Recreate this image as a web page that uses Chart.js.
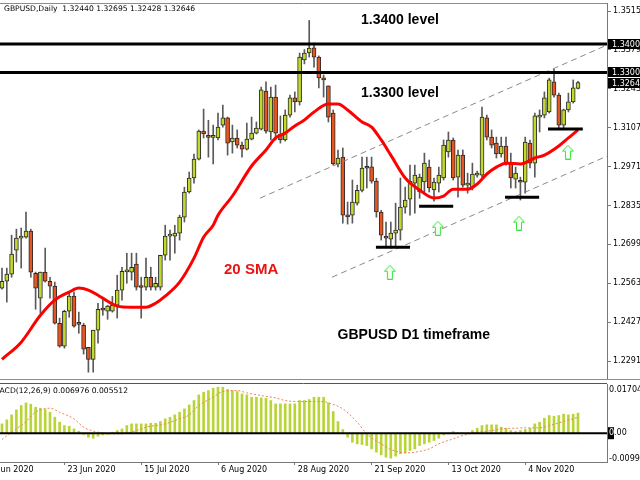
<!DOCTYPE html>
<html>
<head>
<meta charset="utf-8">
<script src="https://cdn.jsdelivr.net/npm/chart.js@4.4.0/dist/chart.umd.min.js"></script>
<style>
  html, body { margin: 0; padding: 0; background: #fff; }
  #wrap { position: relative; width: 640px; height: 480px; overflow: hidden; }
  #main { position: absolute; left: 0; top: 0; }
  #macd { position: absolute; left: 0; top: 380px; }
</style>
</head>
<body>
<div id="wrap">
  <canvas id="main" width="640" height="380"></canvas>
  <canvas id="macd" width="640" height="100"></canvas>
</div>
<script>
// GBPUSD daily candles, one per trading day (bar 0 = 4 Jun 2020, bar 120 = 19 Nov 2020)
const opens = [
  1.2546, 1.2570, 1.2595, 1.2679, 1.2721, 1.2724, 1.2745, 1.2598, 1.2511, 1.2602,
  1.2570, 1.2553, 1.2423, 1.2343, 1.2465, 1.2518, 1.2421, 1.2416, 1.2339, 1.2297,
  1.2399, 1.2472, 1.2465, 1.2465, 1.2486, 1.2539, 1.2603, 1.2602, 1.2630, 1.2550,
  1.2549, 1.2584, 1.2549, 1.2549, 1.2661, 1.2728, 1.2728, 1.2738, 1.2794, 1.2882,
  1.2931, 1.2997, 1.3095, 1.3075, 1.3073, 1.3071, 1.3116, 1.3141, 1.3057, 1.3071,
  1.3046, 1.3032, 1.3067, 1.3088, 1.3102, 1.3235, 1.3092, 1.3214, 1.3085, 1.3064,
  1.3151, 1.3211, 1.3197, 1.3344, 1.3368, 1.3386, 1.3354, 1.3281, 1.3253, 1.3158,
  1.2980, 1.3004, 1.2801, 1.2801, 1.2843, 1.2888, 1.2970, 1.2970, 1.2920, 1.2812,
  1.2728, 1.2717, 1.2738, 1.2749, 1.2829, 1.2857, 1.2913, 1.2882, 1.2917, 1.2969,
  1.2889, 1.2913, 1.2931, 1.3022, 1.3064, 1.2934, 1.3011, 1.2906, 1.2896, 1.2941,
  1.2941, 1.3141, 1.3074, 1.3053, 1.3015, 1.3043, 1.2983, 1.2927, 1.2920, 1.2916,
  1.3053, 1.2983, 1.3144, 1.3151, 1.3162, 1.3267, 1.3221, 1.3116, 1.3169, 1.3197,
  1.32440
];
const highs = [
  1.2616, 1.2616, 1.2731, 1.2752, 1.2756, 1.2812, 1.2752, 1.2602, 1.2602, 1.2686,
  1.2584, 1.2567, 1.2441, 1.2469, 1.2532, 1.2532, 1.2462, 1.2423, 1.2339, 1.2399,
  1.2493, 1.2510, 1.2486, 1.2517, 1.2591, 1.2619, 1.2668, 1.2668, 1.2668, 1.2584,
  1.2651, 1.2619, 1.2584, 1.2661, 1.2766, 1.2749, 1.2766, 1.2801, 1.2899, 1.2952,
  1.3015, 1.3099, 1.3172, 1.3133, 1.3116, 1.3158, 1.3186, 1.3144, 1.3116, 1.3099,
  1.3057, 1.3123, 1.3144, 1.3127, 1.3249, 1.3267, 1.3249, 1.3256, 1.3148, 1.3169,
  1.3221, 1.3232, 1.3368, 1.3380, 1.3482, 1.3403, 1.3358, 1.3291, 1.3253, 1.3169,
  1.3029, 1.3036, 1.2847, 1.2924, 1.2906, 1.3004, 1.3004, 1.3004, 1.2930, 1.2818,
  1.2777, 1.2777, 1.2843, 1.2931, 1.2899, 1.2976, 1.2976, 1.2945, 1.3018, 1.2994,
  1.2931, 1.2969, 1.3064, 1.3092, 1.3071, 1.3029, 1.3029, 1.2948, 1.2983, 1.2955,
  1.3179, 1.3151, 1.3099, 1.3074, 1.3074, 1.3074, 1.3018, 1.2969, 1.2934, 1.3074,
  1.3064, 1.3158, 1.3169, 1.3232, 1.3280, 1.3312, 1.3228, 1.3172, 1.3228, 1.3274,
  1.32695
];
const lows = [
  1.2542, 1.2497, 1.2584, 1.2637, 1.2616, 1.2721, 1.2584, 1.2472, 1.2458, 1.2567,
  1.2511, 1.2420, 1.2339, 1.2336, 1.2444, 1.2409, 1.2388, 1.2315, 1.2252, 1.2252,
  1.2353, 1.2451, 1.2437, 1.2462, 1.2441, 1.2504, 1.2563, 1.2574, 1.2539, 1.2441,
  1.2539, 1.2539, 1.2539, 1.2539, 1.2644, 1.2644, 1.2668, 1.2714, 1.2777, 1.2878,
  1.2913, 1.2994, 1.3071, 1.3004, 1.2980, 1.3064, 1.3109, 1.3011, 1.3018, 1.3036,
  1.3004, 1.3029, 1.3064, 1.3085, 1.3099, 1.3088, 1.3064, 1.3064, 1.3053, 1.3060,
  1.3144, 1.3162, 1.3186, 1.3330, 1.3354, 1.3319, 1.3246, 1.3214, 1.3127, 1.2976,
  1.2970, 1.2773, 1.2770, 1.2773, 1.2836, 1.2882, 1.2896, 1.2913, 1.2794, 1.2714,
  1.2689, 1.2686, 1.2689, 1.2714, 1.2808, 1.2801, 1.2808, 1.2860, 1.2882, 1.2882,
  1.2850, 1.2882, 1.2924, 1.3004, 1.2924, 1.2864, 1.2899, 1.2878, 1.2889, 1.2934,
  1.2934, 1.3064, 1.3036, 1.3001, 1.3004, 1.2976, 1.2896, 1.2896, 1.2854, 1.2878,
  1.2966, 1.2934, 1.3092, 1.3141, 1.3158, 1.3214, 1.3106, 1.3102, 1.3162, 1.3193,
  1.32428
];
const closes = [
  1.2570, 1.2595, 1.2665, 1.2721, 1.2728, 1.2745, 1.2602, 1.2546, 1.2602, 1.2570,
  1.2553, 1.2423, 1.2343, 1.2465, 1.2518, 1.2413, 1.2419, 1.2332, 1.2297, 1.2399,
  1.2472, 1.2469, 1.2483, 1.2486, 1.2539, 1.2605, 1.2606, 1.2619, 1.2549, 1.2548,
  1.2584, 1.2549, 1.2563, 1.2661, 1.2728, 1.2731, 1.2738, 1.2794, 1.2882, 1.2931,
  1.2997, 1.3095, 1.3085, 1.3073, 1.3076, 1.3109, 1.3141, 1.3053, 1.3071, 1.3046,
  1.3032, 1.3067, 1.3088, 1.3106, 1.3239, 1.3095, 1.3214, 1.3088, 1.3064, 1.3151,
  1.3211, 1.3197, 1.3354, 1.3368, 1.3385, 1.3354, 1.3281, 1.3274, 1.3144, 1.2980,
  1.3001, 1.2801, 1.2795, 1.2847, 1.2888, 1.2966, 1.2965, 1.2920, 1.2812, 1.2731,
  1.2721, 1.2738, 1.2749, 1.2829, 1.2854, 1.2920, 1.2941, 1.2934, 1.2983, 1.2896,
  1.2917, 1.2941, 1.3046, 1.3064, 1.2931, 1.3011, 1.2906, 1.2910, 1.2945, 1.2948,
  1.3144, 1.3074, 1.3046, 1.3015, 1.3043, 1.2983, 1.2931, 1.2948, 1.2916, 1.3057,
  1.2983, 1.3148, 1.3148, 1.3211, 1.3274, 1.3221, 1.3116, 1.3169, 1.3197, 1.3246,
  1.32646
];

// 20 SMA (bar index, price)
const smaBars = [0, 4, 8, 11, 14, 16, 18, 20, 22, 24, 27, 30, 32, 34, 37, 40, 42, 44, 45, 48,
  52, 55, 57, 59, 61, 63, 65, 68, 70, 72, 75, 77, 79, 81, 84, 87, 90, 92, 94, 97,
  99, 101, 103, 105, 108, 111, 113, 116, 118, 120];
const smaVals = [1.2297, 1.2357, 1.2451, 1.2504, 1.2532, 1.2546, 1.2539, 1.2521, 1.2500, 1.2483,
  1.2479, 1.2479, 1.2493, 1.2518, 1.2567, 1.2651, 1.2724, 1.2766, 1.2801, 1.2868,
  1.2973, 1.3029, 1.3071, 1.3088, 1.3113, 1.3134, 1.3162, 1.3190, 1.3190, 1.3169,
  1.3127, 1.3109, 1.3064, 1.3011, 1.2931, 1.2889, 1.2861, 1.2868, 1.2892, 1.2892,
  1.2910, 1.2945, 1.2969, 1.2983, 1.2980, 1.3001, 1.3011, 1.3043, 1.3071, 1.3099];

// MACD(12,26,9): main histogram per bar, dotted signal line
const macdMain = [
  0.00323, 0.00462, 0.00635, 0.00808, 0.00958, 0.01050, 0.01004, 0.00900, 0.00866, 0.00819,
  0.00727, 0.00554, 0.00381, 0.00265, 0.00242, 0.00150, 0.00069, -0.00046, -0.00138, -0.00173,
  -0.00104, -0.00058, -0.00035, 0.00035, 0.00092, 0.00150, 0.00265, 0.00323, 0.00323, 0.00323,
  0.00323, 0.00346, 0.00346, 0.00404, 0.00496, 0.00554, 0.00635, 0.00727, 0.00842, 0.00981,
  0.01131, 0.01327, 0.01419, 0.01477, 0.01558, 0.01593, 0.01593, 0.01512, 0.01477, 0.01443,
  0.01362, 0.01327, 0.01246, 0.01246, 0.01223, 0.01212, 0.01131, 0.01016, 0.01016, 0.01016,
  0.01016, 0.01016, 0.01131, 0.01131, 0.01166, 0.01246, 0.01246, 0.01246, 0.01050, 0.00750,
  0.00404, 0.00127, -0.00138, -0.00312, -0.00369, -0.00392, -0.00427, -0.00542, -0.00658, -0.00750,
  -0.00831, -0.00866, -0.00796, -0.00715, -0.00681, -0.00600, -0.00542, -0.00427, -0.00369, -0.00312,
  -0.00254, -0.00173, -0.00058, -0.00023, 0.00058, 0.00012, 0.00000, 0.00012, 0.00092, 0.00173,
  0.00265, 0.00289, 0.00289, 0.00289, 0.00208, 0.00173, 0.00092, 0.00058, 0.00092, 0.00127,
  0.00173, 0.00323, 0.00381, 0.00519, 0.00612, 0.00589, 0.00612, 0.00658, 0.00635, 0.00658,
  0.006976
];
const signalBars = [0, 2, 5, 7, 10, 12, 15, 17, 20, 23, 25, 28, 30, 34, 36, 39, 41, 44, 46, 49,
  51, 54, 57, 59, 62, 64, 67, 68, 71, 74, 76, 79, 81, 84, 86, 89, 91, 94, 96, 99,
  102, 104, 107, 109, 112, 114, 117, 120];
const signalVals = [-0.00219, 0.00035, 0.00404, 0.00727, 0.00866, 0.00727, 0.00496, 0.00208, 0.00035, -0.00023,
  -0.00023, 0.00092, 0.00208, 0.00323, 0.00439, 0.00635, 0.00958, 0.01246, 0.01443, 0.01477,
  0.01396, 0.01304, 0.01223, 0.01131, 0.01096, 0.01096, 0.01096, 0.01050, 0.00842, 0.00381,
  -0.00023, -0.00369, -0.00565, -0.00681, -0.00658, -0.00542, -0.00369, -0.00196, -0.00081, 0.00035,
  0.00092, 0.00150, 0.00173, 0.00185, 0.00185, 0.00265, 0.00404, 0.005512];

// axes
const priceTicks = [1.22910, 1.24270, 1.25630, 1.26990, 1.28350, 1.29710, 1.31070, 1.32430, 1.33790, 1.35150];
const macdTicks = [0.01704, 0, -0.00997];
const dateTickBars = [-3, 13, 29, 45, 61, 77, 93, 109];
const dateTickLabels = ['1 Jun 2020', '23 Jun 2020', '15 Jul 2020', '6 Aug 2020', '28 Aug 2020', '21 Sep 2020', '13 Oct 2020', '4 Nov 2020'];

// drawn objects on the chart
const levelPrices = [1.3400, 1.3300];
const lastPrice = 1.32646;
const channelUpper = [[53.75, 1.28605], [126.04, 1.3396]];
const channelLower = [[68.75, 1.2584], [126.04, 1.30075]];
const supportLines = [[77.9, 85, 1.2689], [86.9, 94, 1.28325], [104.8, 111.9, 1.2864], [113.75, 121, 1.3102]];
const arrowBars = [80.8, 90.8, 107.7, 117.9];
const arrowPrices = [1.26015, 1.27555, 1.2773, 1.30215];

const X_MIN = -0.4167, X_MAX = 126.04;
const GREEN = '#c2d82a', RED = '#e8561f';
const axisFont = { family: 'DejaVu Sans', size: 8 };

const idx = opens.map((_, i) => i);
const pts = (xs, ys) => xs.map((x, i) => ({ x: x, y: ys[i] }));

function arrowImage() {
  const c = document.createElement('canvas');
  c.width = 12; c.height = 15;
  const g = c.getContext('2d');
  g.beginPath();
  g.moveTo(6, 0.5); g.lineTo(11.5, 6.5); g.lineTo(8.5, 6.5); g.lineTo(8.5, 14.5);
  g.lineTo(3.5, 14.5); g.lineTo(3.5, 6.5); g.lineTo(0.5, 6.5); g.closePath();
  g.fillStyle = '#f2fff2'; g.fill();
  g.strokeStyle = '#3be33b'; g.lineWidth = 1; g.stroke();
  return c;
}

const mainDatasets = [
  {
    type: 'scatter', order: 0,
    data: pts(arrowBars, arrowPrices),
    pointStyle: arrowImage(), pointRadius: 6
  },
  ...supportLines.map(s => ({
    type: 'line', order: 1,
    data: [{ x: s[0], y: s[2] }, { x: s[1], y: s[2] }],
    borderColor: '#000', borderWidth: 3, pointRadius: 0
  })),
  ...levelPrices.map(p => ({
    type: 'line', order: 2,
    data: [{ x: X_MIN, y: p }, { x: X_MAX, y: p }],
    borderColor: '#000', borderWidth: 3, pointRadius: 0
  })),
  {
    type: 'line', order: 3,
    data: pts(smaBars, smaVals),
    borderColor: '#ff0000', borderWidth: 3, pointRadius: 0,
    cubicInterpolationMode: 'monotone'
  },
  ...[channelUpper, channelLower].map(c => ({
    type: 'line', order: 4,
    data: c.map(p => ({ x: p[0], y: p[1] })),
    borderColor: '#8a8a8a', borderWidth: 1, borderDash: [6, 4], pointRadius: 0
  })),
  {
    type: 'bar', order: 5, grouped: false,
    data: idx.map(i => ({ x: i, y: [opens[i], closes[i]] })),
    backgroundColor: idx.map(i => closes[i] >= opens[i] ? GREEN : RED),
    borderColor: '#2a2a2a', borderWidth: 1, borderSkipped: false,
    barThickness: 4, minBarLength: 2
  },
  {
    type: 'bar', order: 6, grouped: false,
    data: idx.map(i => ({ x: i, y: [lows[i], highs[i]] })),
    backgroundColor: '#5a5a5a', borderWidth: 0, barThickness: 1
  }
];

const notes = [
  { text: '1.3400 level', x: 82.9, y: 1.34835, color: '#000', size: 14 },
  { text: '1.3300 level', x: 82.9, y: 1.3228, color: '#000', size: 14 },
  { text: '20 SMA', x: 51.9, y: 1.26085, color: '#e81414', size: 15 },
  { text: 'GBPUSD D1 timeframe', x: 85.8, y: 1.2381, color: '#000', size: 14 }
];

const mainOverlay = {
  id: 'mainOverlay',
  afterDraw(chart) {
    const { ctx, chartArea, scales } = chart;
    const y = scales.y, x = scales.x;
    ctx.save();
    // frame
    ctx.strokeStyle = '#8c8c8c'; ctx.lineWidth = 1;
    ctx.beginPath();
    ctx.moveTo(0, chartArea.top + 0.5); ctx.lineTo(chartArea.right, chartArea.top + 0.5);
    ctx.moveTo(0, chartArea.bottom + 0.5); ctx.lineTo(640, chartArea.bottom + 0.5);
    ctx.stroke();
    // notes
    ctx.textAlign = 'center'; ctx.textBaseline = 'middle';
    notes.forEach(n => {
      ctx.font = 'bold ' + n.size + 'px "Liberation Sans", Arial, sans-serif';
      ctx.fillStyle = n.color;
      ctx.fillText(n.text, x.getPixelForValue(n.x), y.getPixelForValue(n.y));
    });
    // title
    ctx.textAlign = 'left';
    ctx.font = '7.6px "DejaVu Sans"';
    ctx.fillStyle = '#000';
    ctx.fillText('GBPUSD,Daily  1.32440 1.32695 1.32428 1.32646', 4, 9);
    // value boxes on the price axis
    ctx.font = '8px "DejaVu Sans"';
    [...levelPrices, lastPrice].forEach(p => {
      const py = Math.round(y.getPixelForValue(p));
      ctx.fillStyle = '#000';
      ctx.fillRect(chartArea.right + 1, py - 5, 40, 10);
      ctx.fillStyle = '#fff';
      ctx.fillText(p.toFixed(5), chartArea.right + 5, py + 0.5);
    });
    ctx.restore();
  }
};

new Chart(document.getElementById('main'), {
  type: 'bar',
  data: { datasets: mainDatasets },
  options: {
    responsive: false, animation: false, events: [],
    layout: { autoPadding: false, padding: { top: 3, bottom: 1, left: 0, right: 0 } },
    plugins: { legend: { display: false }, tooltip: { enabled: false } },
    scales: {
      x: { type: 'linear', display: false, min: X_MIN, max: X_MAX, offset: false, grid: { offset: false } },
      y: {
        position: 'right', min: 1.22281, max: 1.35430,
        afterBuildTicks: s => { s.ticks = priceTicks.map(v => ({ value: v })); },
        afterFit: s => { s.width = 33; s.paddingTop = 0; s.paddingBottom = 0; },
        ticks: { callback: v => v.toFixed(5), font: axisFont, color: '#000', padding: 2, autoSkip: false },
        grid: { drawOnChartArea: false, tickLength: 4, color: '#777' },
        border: { color: '#777' }
      }
    }
  },
  plugins: [mainOverlay]
});

const macdOverlay = {
  id: 'macdOverlay',
  afterDraw(chart) {
    const { ctx, chartArea, scales } = chart;
    const y = scales.y;
    ctx.save();
    ctx.strokeStyle = '#555'; ctx.lineWidth = 1;
    ctx.beginPath();
    ctx.moveTo(0, chartArea.top - 0.5); ctx.lineTo(chartArea.right, chartArea.top - 0.5);
    ctx.stroke();
    ctx.fillStyle = '#000';
    ctx.textBaseline = 'middle'; ctx.textAlign = 'left';
    ctx.font = '7.6px "DejaVu Sans"';
    ctx.fillText('MACD(12,26,9) 0.006976 0.005512', -7, 11);
    ctx.font = '8px "DejaVu Sans"';
    const lx = chartArea.right + 2;
    macdTicks.forEach(v => {
      let py = y.getPixelForValue(v);
      if (v === 0) {
        ctx.fillStyle = '#000';
        ctx.fillRect(chartArea.right + 1, py - 6, 6, 12);
        ctx.fillStyle = '#fff';
        ctx.fillText('0', lx, py);
        ctx.fillStyle = '#000';
        ctx.fillText('.00', lx + 5, py);
        return;
      }
      py += v > 0 ? 6 : -3;
      ctx.fillStyle = '#000';
      ctx.fillText(v.toFixed(5), lx, py);
    });
    ctx.restore();
  }
};

new Chart(document.getElementById('macd'), {
  type: 'bar',
  data: {
    datasets: [
      {
        type: 'line', order: 0,
        data: [{ x: X_MIN, y: 0 }, { x: X_MAX, y: 0 }],
        borderColor: '#000', borderWidth: 2, pointRadius: 0
      },
      {
        type: 'line', order: 1,
        data: pts(signalBars, signalVals),
        borderColor: '#f0805a', borderWidth: 1, borderDash: [2, 2], pointRadius: 0,
        cubicInterpolationMode: 'monotone'
      },
      {
        type: 'bar', order: 2,
        data: idx.map(i => ({ x: i, y: macdMain[i] })),
        backgroundColor: '#b9d436', barThickness: 2
      }
    ]
  },
  options: {
    responsive: false, animation: false, events: [],
    layout: { autoPadding: false, padding: { top: 4, bottom: 0, left: 0, right: 0 } },
    plugins: { legend: { display: false }, tooltip: { enabled: false } },
    scales: {
      x: {
        type: 'linear', min: X_MIN, max: X_MAX, offset: false,
        afterBuildTicks: s => { s.ticks = dateTickBars.map(v => ({ value: v })); },
        afterFit: s => { s.height = 18; s.paddingLeft = 0; s.paddingRight = 0; },
        ticks: {
          autoSkip: false, maxRotation: 0, minRotation: 0, align: 'start', padding: 0,
          labelOffset: 3, font: axisFont, color: '#000',
          callback: (v, i) => dateTickLabels[i]
        },
        grid: { drawOnChartArea: false, tickLength: 3, color: '#777', offset: false },
        border: { color: '#777' }
      },
      y: {
        position: 'right', min: -0.00997, max: 0.01704,
        afterFit: s => { s.width = 33; s.paddingTop = 0; s.paddingBottom = 0; },
        ticks: { display: false },
        grid: { display: false },
        border: { color: '#777' }
      }
    }
  },
  plugins: [macdOverlay]
});
</script>
</body>
</html>
